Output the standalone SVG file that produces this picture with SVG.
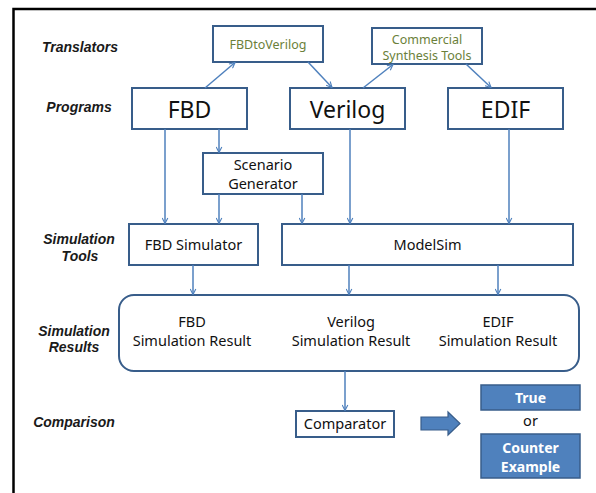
<svg xmlns="http://www.w3.org/2000/svg" width="596" height="493" viewBox="0 0 596 493">
<style>
.box{fill:#fff;stroke:#385d8a;stroke-width:2}
.sbox{fill:#4f81bd;stroke:#385d8a;stroke-width:1.5}
.t{font-family:"Noto Sans","Open Sans",sans-serif;fill:#111;text-anchor:middle}
.big{font-size:23px}
.mid{font-size:14.5px}
.olive{fill:#6b7f3a;font-size:12.5px}
.w{fill:#fff;font-weight:bold;font-size:14px}
.lab{font-family:"Liberation Sans",Arial,sans-serif;font-weight:bold;font-style:italic;font-size:14px;fill:#1a1a1a;text-anchor:middle}
.c{fill:none;stroke:#4f81bd;stroke-width:1.5;marker-end:url(#ah)}
</style>
<defs>
<marker id="ah" viewBox="0 0 10 10" refX="9" refY="5" markerWidth="7" markerHeight="7" markerUnits="userSpaceOnUse" orient="auto">
<path d="M1,1 L9,5 L1,9" fill="none" stroke="#4f81bd" stroke-width="1.6"/>
</marker>
</defs>
<rect width="596" height="493" fill="#fff"/>
<path d="M13.5,493 V9 H596" fill="none" stroke="#000" stroke-width="2.5"/>

<g id="labels">
<text class="lab" x="80" y="52">Translators</text>
<text class="lab" x="79" y="112">Programs</text>
<text class="lab" x="79" y="244">Simulation</text>
<text class="lab" x="80" y="261">Tools</text>
<text class="lab" x="74" y="336">Simulation</text>
<text class="lab" x="74" y="352">Results</text>
<text class="lab" x="74" y="427">Comparison</text>
</g>

<g id="fbdtoverilog"><rect class="box" x="213" y="26" width="110" height="36"/><text class="t olive" x="268" y="48.5">FBDtoVerilog</text></g>
<g id="synthesis"><rect class="box" x="372" y="28" width="110" height="36"/><text class="t olive" x="427" y="43.5">Commercial</text><text class="t olive" x="427" y="60">Synthesis Tools</text></g>
<g id="fbd"><rect class="box" x="132" y="88" width="115" height="41"/><text class="t big" x="189.5" y="118">FBD</text></g>
<g id="verilog"><rect class="box" x="290" y="88" width="115" height="41"/><text class="t big" x="347.5" y="118">Verilog</text></g>
<g id="edif"><rect class="box" x="448" y="88" width="115" height="41"/><text class="t big" x="505.5" y="118">EDIF</text></g>
<g id="scenario"><rect class="box" x="203" y="153" width="120" height="41"/><text class="t mid" x="263" y="170">Scenario</text><text class="t mid" x="263" y="189">Generator</text></g>
<g id="fbdsim"><rect class="box" x="129" y="224" width="129" height="41"/><text class="t mid" x="193.5" y="250">FBD Simulator</text></g>
<g id="modelsim"><rect class="box" x="282" y="224" width="291" height="41"/><text class="t mid" x="427.5" y="250">ModelSim</text></g>
<g id="results"><rect class="box" x="119" y="295" width="460" height="76" rx="15"/>
<text class="t mid" x="192" y="327">FBD</text><text class="t mid" x="192" y="346">Simulation Result</text>
<text class="t mid" x="351" y="327">Verilog</text><text class="t mid" x="351" y="346">Simulation Result</text>
<text class="t mid" x="498" y="327">EDIF</text><text class="t mid" x="498" y="346">Simulation Result</text></g>
<g id="comparator"><rect class="box" x="296" y="411" width="98" height="26"/><text class="t mid" x="345" y="428.5">Comparator</text></g>
<g id="bigarrow"><polygon points="421,417 448,417 448,412 460,423.5 448,435 448,430 421,430" fill="#4f81bd" stroke="#385d8a" stroke-width="1.2"/></g>
<g id="true"><rect class="sbox" x="481" y="385" width="99" height="25"/><text class="t w" x="530.5" y="403">True</text></g>
<g id="or"><text class="t mid" x="530.5" y="426">or</text></g>
<g id="counter"><rect class="sbox" x="481" y="434" width="99" height="44"/><text class="t w" x="530.5" y="452.5">Counter</text><text class="t w" x="530.5" y="471.5">Example</text></g>

<g id="connectors">
<line class="c" x1="205" y1="88" x2="235" y2="62.5"/>
<line class="c" x1="308" y1="62" x2="332" y2="87.5"/>
<line class="c" x1="363" y1="88" x2="393" y2="64.5"/>
<line class="c" x1="466" y1="64" x2="491" y2="87.5"/>
<line class="c" x1="165" y1="129" x2="165" y2="223.5"/>
<line class="c" x1="219" y1="129" x2="219" y2="152.5"/>
<line class="c" x1="219" y1="194" x2="219" y2="223.5"/>
<line class="c" x1="302" y1="194" x2="302" y2="223.5"/>
<line class="c" x1="350" y1="129" x2="350" y2="223.5"/>
<line class="c" x1="509" y1="129" x2="509" y2="223.5"/>
<line class="c" x1="193" y1="265" x2="193" y2="294.5"/>
<line class="c" x1="349" y1="265" x2="349" y2="294.5"/>
<line class="c" x1="498" y1="265" x2="498" y2="294.5"/>
<line class="c" x1="345" y1="371" x2="345" y2="410.5"/>
</g>
</svg>
